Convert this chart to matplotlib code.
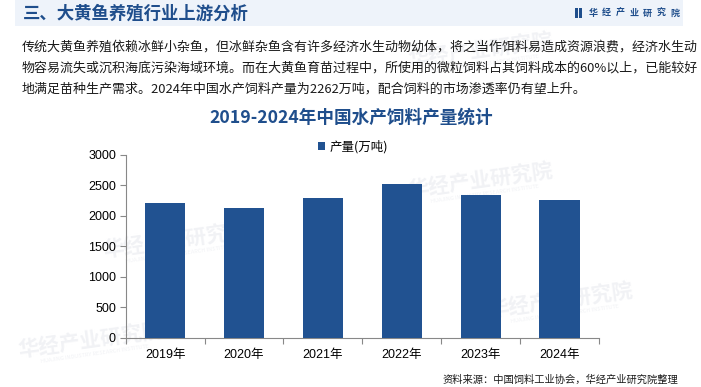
import matplotlib
matplotlib.use("Agg")
import matplotlib.pyplot as plt
from matplotlib.patches import Rectangle

plt.rcParams['font.family'] = ['Noto Sans CJK SC', 'DejaVu Sans']

years = ["2019年", "2020年", "2021年", "2022年", "2023年", "2024年"]
output = [2203, 2124, 2293, 2526, 2344, 2262]
series_name = "产量(万吨)"
yticks = [0, 500, 1000, 1500, 2000, 2500, 3000]

header = "三、大黄鱼养殖行业上游分析"
brand = "华经产业研究院"
para_lines = [
    "传统大黄鱼养殖依赖冰鲜小杂鱼，但冰鲜杂鱼含有许多经济水生动物幼体，将之当作饵料易造成资源浪费，经济水生动",
    "物容易流失或沉积海底污染海域环境。而在大黄鱼育苗过程中，所使用的微粒饲料占其饲料成本的60%以上，已能较好",
    "地满足苗种生产需求。2024年中国水产饲料产量为2262万吨，配合饲料的市场渗透率仍有望上升。",
]
chart_title = "2019-2024年中国水产饲料产量统计"
source = "资料来源：中国饲料工业协会，华经产业研究院整理"

W, H = 701, 387
fig = plt.figure(figsize=(W / 100, H / 100), dpi=100)
fig.patch.set_facecolor('white')

def fx(x):
    return x / W

def fy(y):
    return 1 - y / H

blue = '#1F4E8C'
bar_color = '#215291'

# faint watermarks
wm_pos = [(480, 50), (175, 240), (480, 180), (560, 300), (90, 340)]
for (x, y) in wm_pos:
    fig.text(fx(x), fy(y), brand, fontsize=15, fontweight='bold', color='#F1F2F5',
             rotation=8, ha='center', va='center', zorder=0.5)
    fig.text(fx(x + 5), fy(y + 14), "HUAJING INDUSTRY RESEARCH INSTITUTE", fontsize=4,
             color='#F1F2F5', rotation=8, ha='center', va='center', zorder=0.5)

# header band
fig.patches.append(Rectangle((fx(15), fy(26)), fx(683 - 15), 26 / H, transform=fig.transFigure,
                             facecolor='#EEF3FA', edgecolor='none', zorder=1))
fig.text(fx(23), fy(14), header, fontsize=12.5, fontweight='bold', color=blue,
         ha='left', va='center', zorder=2)
# logo
fig.patches.append(Rectangle((fx(575), fy(18)), fx(2.5), 10 / H, transform=fig.transFigure,
                             facecolor=blue, edgecolor='none', zorder=2))
fig.patches.append(Rectangle((fx(579), fy(18)), fx(2.5), 10 / H, transform=fig.transFigure,
                             facecolor=blue, edgecolor='none', zorder=2))
for i, ch in enumerate(brand):
    fig.text(fx(593 + i * 13.6), fy(13), ch, fontsize=6.5, fontweight='bold', color=blue,
             ha='center', va='center', zorder=2)

# paragraph
for i, line in enumerate(para_lines):
    fig.text(fx(22), fy(47 + i * 21), line, fontsize=9.35, color='#1a1a1a',
             ha='left', va='center', zorder=2)

fig.text(fx(351), fy(118), chart_title, fontsize=12.7, fontweight='bold', color=blue,
         ha='center', va='center', zorder=2)

fig.text(fx(678), fy(380), source, fontsize=7.4, color='#1a1a1a', ha='right', va='center', zorder=2)

# chart axes
ax = fig.add_axes([fx(125.7), fy(337.7), fx(599 - 125.7), (337.7 - 154.7) / H])
ax.set_zorder(1)
ax.set_facecolor('none')
x = list(range(len(years)))
ax.bar(x, output, width=0.51, color=bar_color, label=series_name, zorder=3)
ax.set_xlim(-0.5, len(years) - 0.5)
ax.set_ylim(0, 3000)
ax.set_yticks(yticks)
ax.set_yticklabels([str(v) for v in yticks], fontsize=9, family=['Liberation Sans', 'DejaVu Sans'])
ax.set_xticks([i - 0.5 for i in range(len(years) + 1)])
ax.set_xticklabels([])
ax.set_xticks(x, minor=True)
ax.set_xticklabels(years, minor=True, fontsize=9, family=['Liberation Sans', 'Noto Sans CJK SC'])
ax.tick_params(axis='x', which='minor', length=0, pad=8)
ax.tick_params(axis='x', which='major', length=4, color='#888888', direction='out')
ax.tick_params(axis='y', length=4, color='#888888', direction='out', pad=3)
for s in ['top', 'right']:
    ax.spines[s].set_visible(False)
for s in ['left', 'bottom']:
    ax.spines[s].set_color('#888888')
    ax.spines[s].set_linewidth(0.8)

leg = ax.legend(loc='center', bbox_to_anchor=(fx(353), fy(147)), bbox_transform=fig.transFigure,
                frameon=False, fontsize=9, handlelength=0.6, handleheight=0.6, handletextpad=0.4)

fig.savefig("out.png", dpi=100, facecolor='white')
